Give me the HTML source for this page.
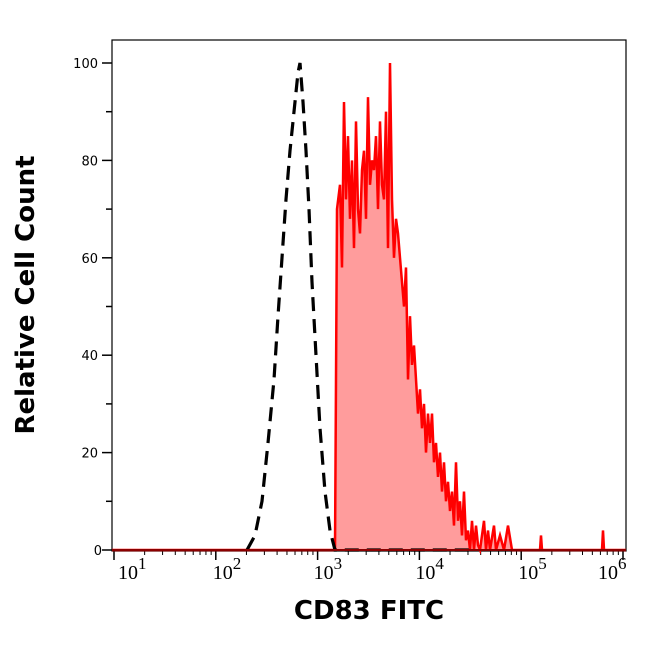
<!DOCTYPE html><html><head><meta charset="utf-8"><style>
body{margin:0;background:#fff;width:646px;height:641px;overflow:hidden}
</style></head><body>
<svg id="s" width="646" height="641" xmlns="http://www.w3.org/2000/svg" font-family="DejaVu Sans, Liberation Sans, sans-serif">
<rect x="112" y="40" width="514" height="511" fill="none" stroke="#000" stroke-width="1.2"/>
<g id="ax" stroke="#000" stroke-width="1.5"></g>
<g id="lab" font-size="13" fill="#000"></g>
<path id="red" fill="#ff9c9c" stroke="#f00" stroke-width="2.5" stroke-linejoin="miter"/>
<path id="blk" fill="none" stroke="#000" stroke-width="3.2" stroke-dasharray="14,8"/>
<line x1="112" y1="550" x2="626" y2="550" stroke="#8b0000" stroke-width="2"/>
<text x="34" y="295" font-size="26" font-weight="bold" text-anchor="middle" transform="rotate(-90 34 295)" style="font-family:'DejaVu Sans',sans-serif">Relative Cell Count</text>
<text x="369" y="619" font-size="26" font-weight="bold" text-anchor="middle" style="font-family:'DejaVu Sans',sans-serif">CD83 FITC</text>
</svg>
<script>
const Y=v=>550-v*4.87;
let ax=document.getElementById('ax'),lab=document.getElementById('lab'),h='',t='';
for(let v=0;v<=100;v+=10){let y=Y(v);h+=`<line x1="${v%20?106:102}" y1="${y}" x2="112" y2="${y}"/>`;if(v%20==0)t+=`<text x="${v==0?102:98}" y="${y+5}" text-anchor="end">${v}</text>`;}
const X=l=>114+(l-1)*101.8;
const off=[0,4,-3,-4,-4,-3,-25];
for(let d=1;d<=6;d++){let x=X(d);h+=`<line x1="${x}" y1="551" x2="${x}" y2="560"/>`;
t+=`<text x="${x+off[d]}" y="579" font-size="20" style="font-family:'Liberation Serif',serif">10<tspan dy="-10" font-size="17">${d}</tspan></text>`;
if(d<6)for(let k=2;k<10;k++){let xx=X(d+Math.log10(k));h+=`<line x1="${xx}" y1="551" x2="${xx}" y2="555" stroke-width="1"/>`;}}
ax.innerHTML=h;lab.innerHTML=t;
const r=[335,0,337,70,340,75,342,58,344,92,346,72,348,85,350,68,352,80,354,62,356,88,358,70,360,65,362,78,364,82,366,68,368,93,370,75,372,80,374,78,376,85,378,70,380,88,382,75,384,72,386,90,388,62,390,100,392,72,394,60,396,68,398,65,400,60,402,55,404,50,406,58,408,35,410,48,412,38,414,42,416,35,418,28,420,33,422,25,424,30,426,20,428,28,430,22,432,28,434,18,436,22,438,15,440,20,442,12,444,18,446,10,448,14,450,8,452,12,454,5,456,18,458,6,460,10,462,3,464,12,466,2,468,4,470,0,472,6,474,0,476,5,478,1,480,0,484,6,486,0,488,4,490,0,494,5,496,0,500,3,504,0,508,5,512,0,540,0,541,3,542,0,602,0,603,4,604,0,626,0];
let p='M112,550 L335,550';for(let i=0;i<r.length;i+=2)p+=` L${r[i]},${Y(r[i+1]).toFixed(1)}`;
document.getElementById('red').setAttribute('d',p);
const b=[247,0,255,3,262,10,268,22,274,35,278,48,282,60,286,72,290,82,294,90,298,98,300,100,303,92,306,82,309,70,312,55,316,40,320,25,325,12,330,4,335,0,470,0];
let q='';for(let i=0;i<b.length;i+=2)q+=(i?' L':'M')+`${b[i]},${Y(b[i+1]).toFixed(1)}`;
document.getElementById('blk').setAttribute('d',q);
</script></body></html>
